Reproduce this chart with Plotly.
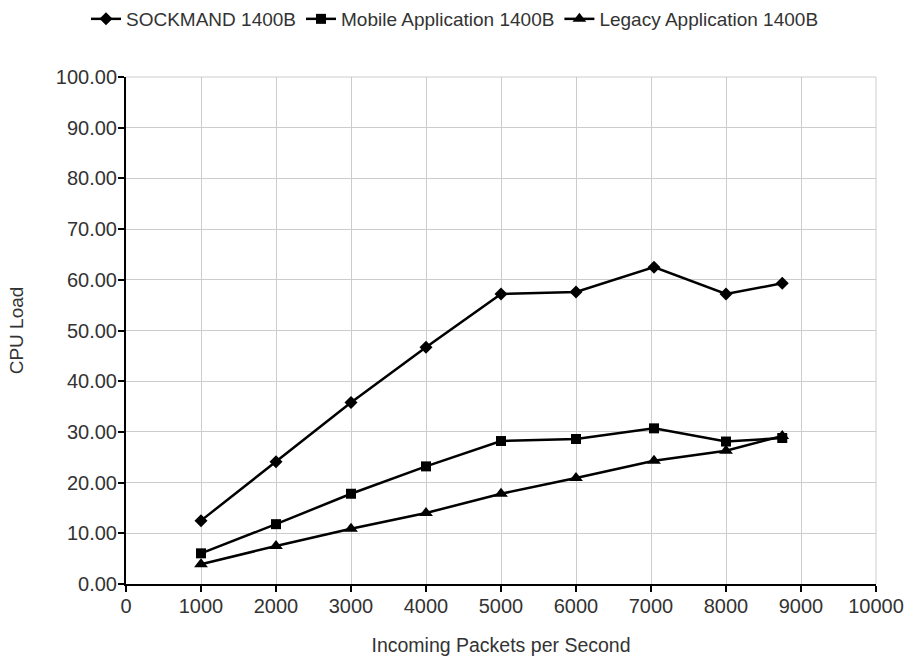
import plotly.graph_objects as go

x_vals = [1000, 2000, 3000, 4000, 5000, 6000, 7040, 8000, 8750]
sockmand = [12.5, 24.1, 35.8, 46.7, 57.2, 57.6, 62.5, 57.2, 59.3]
mobile = [6.05, 11.8, 17.8, 23.2, 28.2, 28.6, 30.7, 28.1, 28.8]
legacy = [3.9, 7.5, 10.9, 14.0, 17.8, 20.9, 24.3, 26.3, 29.2]

names = ["SOCKMAND 1400B", "Mobile Application 1400B", "Legacy Application 1400B"]
symbols = ["diamond", "square", "triangle-up"]
sizes = [10, 10, 12]
series = [sockmand, mobile, legacy]

fig = go.Figure()
for n, s, sz, y in zip(names, symbols, sizes, series):
    fig.add_trace(go.Scatter(
        x=x_vals, y=y, name=n, mode="lines+markers",
        line=dict(color="black", width=2.5),
        marker=dict(symbol=s, size=sz, color="black"),
    ))

font_family = "Liberation Sans, Arial, sans-serif"
txt = "#333333"
fig.update_layout(
    width=910, height=662,
    margin=dict(l=126, r=34, t=77, b=78, autoexpand=False),
    paper_bgcolor="white", plot_bgcolor="white",
    font=dict(family=font_family, size=20, color=txt),
    showlegend=True,
    legend=dict(orientation="h", x=0.5, xanchor="center", xref="container",
                y=1.0, yanchor="top", yref="container",
                font=dict(size=19, color=txt),
                tracegroupgap=0),
    xaxis=dict(
        range=[0, 10000], tickmode="array",
        tickvals=list(range(0, 10001, 1000)),
        ticktext=[str(v) for v in range(0, 10001, 1000)],
        showgrid=True, gridcolor="#cccccc", gridwidth=1,
        showline=True, linecolor="black", linewidth=2,
        ticks="outside", tickcolor="black", ticklen=6, tickwidth=2,
        tickfont=dict(size=20, color=txt), ticklabelstandoff=-3,
        title=dict(text="Incoming Packets per Second", font=dict(size=19.5, color=txt), standoff=22),
        zeroline=False,
    ),
    yaxis=dict(
        range=[0, 100], tickmode="array",
        tickvals=list(range(0, 101, 10)),
        ticktext=[f"{v:.2f}" for v in range(0, 101, 10)],
        showgrid=True, gridcolor="#cccccc", gridwidth=1,
        showline=True, linecolor="black", linewidth=2,
        ticks="outside", tickcolor="black", ticklen=6, tickwidth=2,
        tickfont=dict(size=20, color=txt), ticklabelstandoff=-3,
        title=dict(text="CPU Load", font=dict(size=19, color=txt), standoff=27),
        zeroline=False,
    ),
)
fig.add_shape(type="line", xref="paper", yref="paper", x0=1, x1=1, y0=0, y1=1,
              line=dict(color="#cccccc", width=1))
fig.add_shape(type="line", xref="paper", yref="paper", x0=0, x1=1, y0=1, y1=1,
              line=dict(color="#cccccc", width=1))

fig.write_html("out.html")
